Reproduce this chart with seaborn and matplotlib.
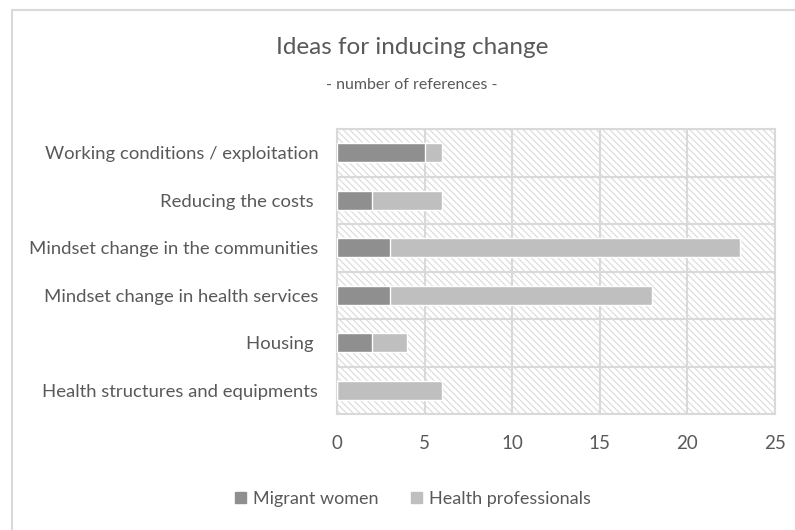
import matplotlib
matplotlib.use("Agg")
import matplotlib.pyplot as plt
import matplotlib.patches as mpatches
import seaborn as sns
import pandas as pd

categories = [
    "Working conditions / exploitation",
    "Reducing the costs ",
    "Mindset change in the communities",
    "Mindset change in health services",
    "Housing ",
    "Health structures and equipments",
]
migrant_women = [5, 2, 3, 3, 2, 0]
health_professionals = [1, 4, 20, 15, 2, 6]
xticks = [0, 5, 10, 15, 20, 25]

MW_COLOR = "#8f8f8f"
HP_COLOR = "#bfbfbf"
TXT = "#595959"
GRID = "#d9d9d9"

sns.set_theme(style="white")
plt.rcParams["font.family"] = ["Lato", "DejaVu Sans"]
plt.rcParams["hatch.linewidth"] = 0.8

df = pd.DataFrame({
    "cat": categories,
    "mw": migrant_women,
    "total": [a + b for a, b in zip(migrant_women, health_professionals)],
})

fig = plt.figure(figsize=(7.95, 5.3), dpi=100)
ax = fig.add_axes([337 / 795, 1 - 414 / 530, (775 - 337) / 795, (414 - 129) / 530])

# hatched background
bg = mpatches.Rectangle((0, 0), 1, 1, transform=ax.transAxes, facecolor="white",
                        edgecolor="#dadada", hatch="\\\\\\\\\\", linewidth=0, zorder=0)
ax.add_patch(bg)

sns.barplot(data=df, x="total", y="cat", color=HP_COLOR, width=0.4,
            saturation=1, ax=ax, zorder=3, orient="h")
sns.barplot(data=df, x="mw", y="cat", color=MW_COLOR, width=0.4,
            saturation=1, ax=ax, zorder=4, orient="h")

ax.set_xlim(0, 25)
ax.set_ylim(len(categories) - 0.5, -0.5)
for x in xticks[1:-1]:
    ax.axvline(x, color=GRID, lw=1.5, zorder=1)
for i in range(len(categories) - 1):
    ax.axhline(i + 0.5, color=GRID, lw=1.5, zorder=1)
for s in ax.spines.values():
    s.set_color(GRID)
    s.set_linewidth(1.5)
    s.set_visible(True)

ax.set_xticks(xticks)
ax.set_xticklabels([str(t) for t in xticks])
ax.tick_params(axis="x", colors=TXT, labelsize=13.5, length=0, pad=15)
ax.tick_params(axis="y", colors=TXT, labelsize=13.3, length=0, pad=13.5)
for lbl in ax.get_xticklabels() + ax.get_yticklabels():
    lbl.set_color(TXT)
ax.set_xlabel("")
ax.set_ylabel("")

fig.text(412 / 795, 1 - 48 / 530, "Ideas for inducing change", ha="center", va="center",
         fontsize=17.5, color=TXT)
fig.text(412 / 795, 1 - 85 / 530, "- number of references -", ha="center", va="center",
         fontsize=11.5, color=TXT)

handles = [mpatches.Patch(color=MW_COLOR, label="Migrant women"),
           mpatches.Patch(color=HP_COLOR, label="Health professionals")]
leg = fig.legend(handles=handles, loc="center", bbox_to_anchor=(413 / 795, 1 - 499 / 530),
                 ncol=2, frameon=False, fontsize=13, labelcolor=TXT,
                 handlelength=0.6, handleheight=0.6, handletextpad=0.4, columnspacing=1.8)

# outer frame (top and left)
fig.add_artist(plt.Line2D([12 / 795, 1.0], [1 - 10 / 530, 1 - 10 / 530],
                          transform=fig.transFigure, color=GRID, lw=1.5))
fig.add_artist(plt.Line2D([12 / 795, 12 / 795], [0, 1 - 10 / 530],
                          transform=fig.transFigure, color=GRID, lw=1.5))

fig.savefig("out.png", dpi=100)
